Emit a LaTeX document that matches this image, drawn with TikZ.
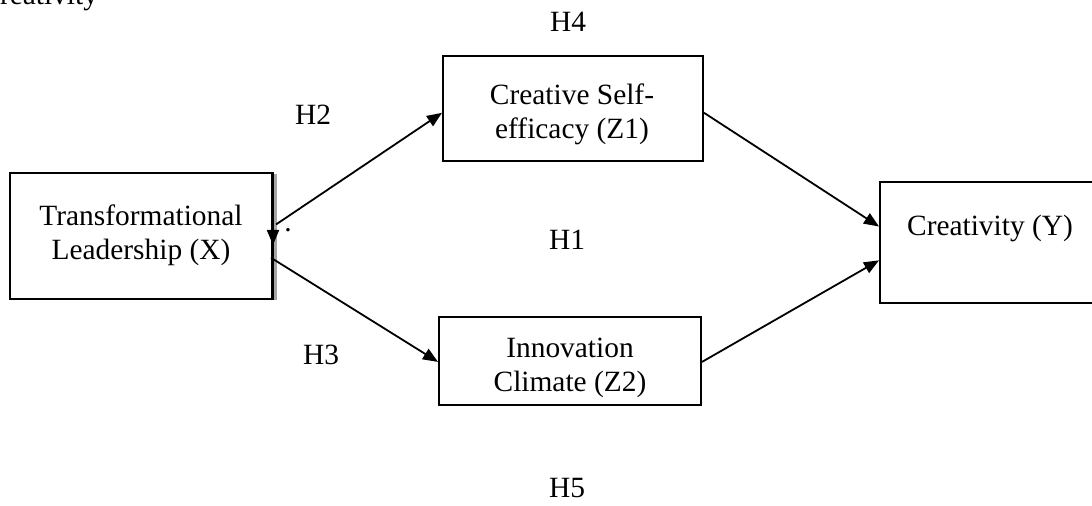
\documentclass[tikz,border=0pt]{standalone}
\usepackage{fontspec}
\setmainfont{Liberation Serif}
\usetikzlibrary{arrows.meta,calc}
\tikzset{
  box/.style={draw,line width=1pt,rectangle,inner sep=0pt},
  lbl/.style={font=\fontsize{14.7}{17}\selectfont,inner sep=0pt,align=center},
  conn/.style={line width=0.9pt,-{Triangle[length=7.5pt,width=6pt]}},
}
\begin{document}
\begin{tikzpicture}[x=0.5pt,y=-0.5pt]
\useasboundingbox (0,0) rectangle (1092,505);
\clip (0,0) rectangle (1092,505);
% partially cut caption
\node[lbl,anchor=base west] (cap) at (-20,4) {Creativity};
% boxes
\node[box,minimum width=131pt,minimum height=63pt] (X) at (141,236) {};
\draw[gray!70,line width=1.5pt] (275,174) -- (275,300);
\draw[line width=1pt] (X.north east) -- (X.south east);
\node[lbl] (Xt) at (141,235) {Transformational\\Leadership (X)};
\node[box,minimum width=130pt,minimum height=52.5pt] (Z1) at (573,108.5) {};
\node[lbl] (Z1t) at (572,114) {Creative Self-\\efficacy (Z1)};
\node[box,minimum width=131pt,minimum height=44pt] (Z2) at (570,361) {};
\node[lbl] (Z2t) at (570,368) {Innovation\\Climate (Z2)};
\node[box,minimum width=115pt,minimum height=60.5pt] (Y) at (995,242.5) {};
\node[lbl] (Yt) at (990,228) {Creativity (Y)};
% hypothesis labels
\node[lbl] (H4) at (568,22) {H4};
\node[lbl] (H2) at (313,115) {H2};
\node[lbl] (H1) at (567,240) {H1};
\node[lbl] (H3) at (321,355) {H3};
\node[lbl] (H5) at (567,488) {H5};
% connector anchors
\coordinate (xa) at ($(X.north east)!0.41!(X.south east)+(3,0)$);
\coordinate (xb) at ($(X.north east)!0.67!(X.south east)+(-2,0)$);
\coordinate (z1in) at ($(Z1.north west)!0.54!(Z1.south west)$);
\coordinate (z1out) at ($(Z1.north east)!0.54!(Z1.south east)$);
\coordinate (z2in) at ($(Z2.north west)!0.51!(Z2.south west)$);
\coordinate (z2out) at ($(Z2.north east)!0.51!(Z2.south east)$);
\coordinate (ya) at ($(Y.north west)!0.37!(Y.south west)$);
\coordinate (yb) at ($(Y.north west)!0.645!(Y.south west)$);
\coordinate (xd0) at ($(X.north east)!0.40!(X.south east)$);
\coordinate (xd1) at ($(X.north east)!0.57!(X.south east)$);
% connectors
\draw[conn] (xa) -- (z1in);
\draw[conn] (xb) -- (z2in);
\draw[conn] (z1out) -- (ya);
\draw[conn] (z2out) -- (yb);
\draw[conn] (xd0) -- (xd1);
\node[lbl,anchor=base] (dot) at (288,231) {.};
\end{tikzpicture}
\end{document}
